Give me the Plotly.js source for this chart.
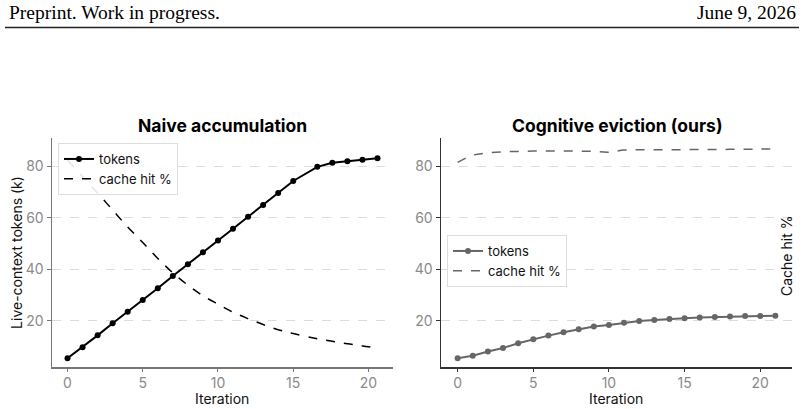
<!DOCTYPE html>
<html>
<head>
<meta charset="utf-8">
<script src="https://cdn.plot.ly/plotly-3.0.1.min.js"></script>
<style>html,body{margin:0;padding:0;background:#fff;}#chart{width:804px;height:409px;}</style>
</head>
<body>
<div id="chart"></div>
<script>
// Naive accumulation panel
const naiveIter = [0,1,2,3,4,5,6,7,8,9,10,11,12,13,14,15,16.6,17.6,18.6,19.6,20.6];
const naiveTokens = [5.4,9.7,14.3,19.0,23.5,28.0,32.6,37.4,41.9,46.6,51.2,55.7,60.4,65.0,69.6,74.3,79.8,81.4,82.0,82.5,83.1];
const naiveCache = [82.4,76.0,69.6,63.0,56.4,50.4,44.2,38.6,33.8,29.7,26.4,23.3,20.8,18.5,16.5,15.0,13.0,12.0,11.0,10.2,9.3];
// Cognitive eviction panel
const evictIter = [0,1,2,3,4,5,6,7,8,9,10,11,12,13,14,15,16,17,18,19,20,21];
const evictTokens = [5.4,6.4,8.0,9.4,11.2,12.8,14.2,15.5,16.7,17.7,18.3,19.2,19.9,20.3,20.7,20.9,21.2,21.4,21.6,21.8,21.8,21.9];
const evictCache = [81.5,84.3,85.2,85.6,85.8,85.9,85.9,85.9,85.9,85.8,85.5,86.3,86.4,86.4,86.4,86.5,86.5,86.5,86.6,86.6,86.7,86.7];

const titles = ["Naive accumulation", "Cognitive eviction (ours)"];
const xTitle = "Iteration";
const yTitle = "Live-context tokens (k)";
const rightLabel = "Cache hit %";
const seriesNames = ["tokens", "cache hit %"];
const headerLeft = "Preprint. Work in progress.";
const headerRight = "June 9, 2026";

const FONT = "Inter, 'DejaVu Sans', sans-serif";
const SERIF = "'Liberation Serif', 'Times New Roman', serif";

const traces = [
  {x: naiveIter, y: naiveTokens, name: seriesNames[0], mode: "lines+markers", xaxis: "x", yaxis: "y",
   line: {color: "#000", width: 2}, marker: {color: "#000", size: 6}, legend: "legend"},
  {x: naiveIter, y: naiveCache, name: seriesNames[1], mode: "lines", xaxis: "x", yaxis: "y",
   line: {color: "#000", width: 1.5, dash: "dash", shape: "spline"}, legend: "legend"},
  {x: evictIter, y: evictTokens, name: seriesNames[0], mode: "lines+markers", xaxis: "x2", yaxis: "y2",
   line: {color: "#666", width: 2}, marker: {color: "#666", size: 6}, legend: "legend2"},
  {x: evictIter, y: evictCache, name: seriesNames[1], mode: "lines", xaxis: "x2", yaxis: "y2",
   line: {color: "#666", width: 1.5, dash: "dash", shape: "spline"}, legend: "legend2"}
];

const yDom = [1 - 367/409, 1 - 138/409];
function xax(dom, range, lineColor) {
  return {domain: dom, range: range, tickvals: [0,5,10,15,20], ticks: "outside", ticklen: 3,
    tickcolor: lineColor, showline: true, linecolor: lineColor, linewidth: 1.5, showgrid: false,
    zeroline: false, tickfont: {size: 14, color: "#8a8a8a", family: FONT}};
}
function yax(dom, lineColor, withTitle, anchor) {
  const a = {domain: dom, range: [2.0, 91.0], tickvals: [20,40,60,80], ticks: "outside", ticklen: 4,
    tickcolor: lineColor, showline: true, linecolor: lineColor, linewidth: 1.5,
    showgrid: true, gridcolor: "#dcdcdc", griddash: "dash", gridwidth: 1, zeroline: false,
    tickfont: {size: 14, color: "#8a8a8a", family: FONT}, anchor: anchor};
  if (withTitle) a.title = {text: yTitle, font: {size: 14, color: "#111", family: FONT}, standoff: 0};
  return a;
}
function leg(x, y) {
  return {x: x, y: y, xanchor: "left", yanchor: "top", bgcolor: "rgba(255,255,255,0.9)",
    bordercolor: "#ddd", borderwidth: 1, font: {size: 13, color: "#111", family: FONT},
    tracegroupgap: 0, itemwidth: 30};
}

const layout = {
  width: 804, height: 409,
  margin: {l: 0, r: 0, t: 0, b: 0},
  paper_bgcolor: "#fff", plot_bgcolor: "#fff",
  font: {family: FONT},
  showlegend: true,
  xaxis: Object.assign(xax([52/804, 393/804], [-1.03, 21.63], "#777"), {anchor: "y"}),
  yaxis: yax(yDom, "#777", true, "x"),
  xaxis2: Object.assign(xax([441/804, 792/804], [-1.1, 22.1], "#333"), {anchor: "y2"}),
  yaxis2: yax(yDom, "#333", false, "x2"),
  legend: leg(58/804, 1 - 143/409),
  legend2: leg(447/804, 1 - 235/409),
  annotations: [
    {text: "<b>" + titles[0] + "</b>", xref: "paper", yref: "paper", x: 222/804, y: 1 - 125/409,
     showarrow: false, font: {size: 17.5, color: "#000", family: FONT}, xanchor: "center", yanchor: "middle"},
    {text: "<b>" + titles[1] + "</b>", xref: "paper", yref: "paper", x: 617/804, y: 1 - 125/409,
     showarrow: false, font: {size: 17.5, color: "#000", family: FONT}, xanchor: "center", yanchor: "middle"},
    {text: xTitle, xref: "paper", yref: "paper", x: 222/804, y: 1 - 398/409,
     showarrow: false, font: {size: 14, color: "#111", family: FONT}, xanchor: "center", yanchor: "middle"},
    {text: xTitle, xref: "paper", yref: "paper", x: 616/804, y: 1 - 398/409,
     showarrow: false, font: {size: 14, color: "#111", family: FONT}, xanchor: "center", yanchor: "middle"},
    {text: rightLabel, xref: "paper", yref: "paper", x: 786/804, y: 1 - 256/409, textangle: -90,
     showarrow: false, font: {size: 14, color: "#111", family: FONT}, xanchor: "center", yanchor: "middle"},
    {text: headerLeft, xref: "paper", yref: "paper", x: 7/804, y: 1 - 13/409, showarrow: false,
     xanchor: "left", yanchor: "middle", font: {size: 19.5, color: "#000", family: SERIF}},
    {text: headerRight, xref: "paper", yref: "paper", x: 798/804, y: 1 - 13/409, showarrow: false,
     xanchor: "right", yanchor: "middle", font: {size: 19.5, color: "#000", family: SERIF}}
  ],
  shapes: [
    {type: "line", xref: "paper", yref: "paper", x0: 5/804, x1: 799/804, y0: 1 - 27.5/409, y1: 1 - 27.5/409,
     line: {color: "#222", width: 1.5}}
  ]
};

Plotly.newPlot("chart", traces, layout, {displayModeBar: false, staticPlot: true});
</script>
</body>
</html>
